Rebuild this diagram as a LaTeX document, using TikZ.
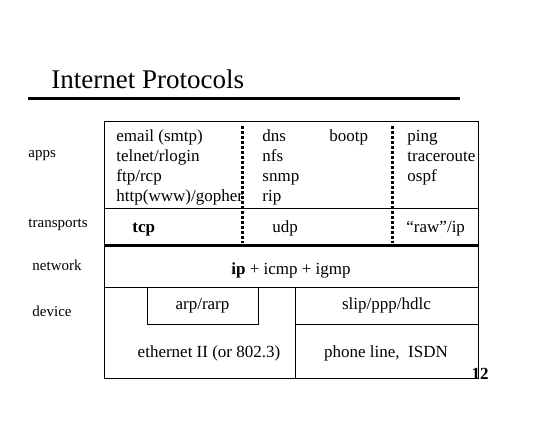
\documentclass[tikz,border=0pt]{standalone}
\usepackage{fontspec}
\setmainfont{Liberation Serif}
\usepackage{tikz}
\usetikzlibrary{positioning}

\begin{document}
\begin{tikzpicture}[x=1pt, y=-1pt, line width=0.9pt,
  cell/.style={font=\fontsize{17}{20}\selectfont, inner sep=0pt},
  row/.style={cell, anchor=base west},
  side/.style={font=\fontsize{15}{18}\selectfont, inner sep=0pt, anchor=base west},
  sep/.style={line width=3pt, dash pattern=on 3pt off 2pt}]
  \useasboundingbox (0,0) rectangle (550,425);
  % title
  \node[font=\fontsize{27}{32}\selectfont, anchor=base west, inner sep=0pt] (title) at (51,89) {Internet Protocols};
  \draw[line width=3pt] (28,99) -- (460,99);
  % layer names
  \node[side] (apps) at (28,158) {apps};
  \node[side] (transports) at (28,228) {transports};
  \node[side] (network) at (32,271) {network};
  \node[side] (device) at (32,317) {device};
  % frame and rows
  \draw (104,121) rectangle (478,378);
  \draw (104,208) -- (478,208);
  \draw[line width=3pt] (104,246) -- (478,246);
  \draw (104,287) -- (478,287);
  \draw[sep] (242,126) -- (242,243);
  \draw[sep] (392,126) -- (392,243);
  % apps
  \foreach \t [count=\i] in {email (smtp), telnet/rlogin, ftp/rcp, http(www)/gopher}
    \node[row] (app\i) at (116,122+20*\i) {\t};
  \foreach \t [count=\i] in {dns, nfs, snmp, rip}
    \node[row] (udpapp\i) at (262,122+20*\i) {\t};
  \node[row] (bootp) at (329,142) {bootp};
  \foreach \t [count=\i] in {ping, traceroute, ospf}
    \node[row] (rawapp\i) at (407,122+20*\i) {\t};
  % transports
  \node[row, font=\fontsize{17}{20}\selectfont\bfseries] (tcp) at (132,233) {tcp};
  \node[row] (udp) at (272,233) {udp};
  \node[row] (raw) at (406,233) {``raw''/ip};
  % network
  \node[cell, anchor=base] (ip) at (291,275) {\textbf{ip} + icmp + igmp};
  % device
  \draw (147,287) rectangle (258,324);
  \draw (295,287) -- (295,378);
  \draw (295,324) -- (478,324);
  \node[cell, anchor=base] (arp) at (202.5,310) {arp/rarp};
  \node[cell, anchor=base] (slip) at (386.5,310) {slip/ppp/hdlc};
  \node[cell, anchor=base] (ether) at (209,358) {ethernet II (or 802.3)};
  \node[cell, anchor=base] (phone) at (386,358) {phone line,\ \ ISDN};
  \node[cell, anchor=base, font=\fontsize{17}{20}\selectfont\bfseries] (page) at (480,380) {12};
\end{tikzpicture}
\end{document}
